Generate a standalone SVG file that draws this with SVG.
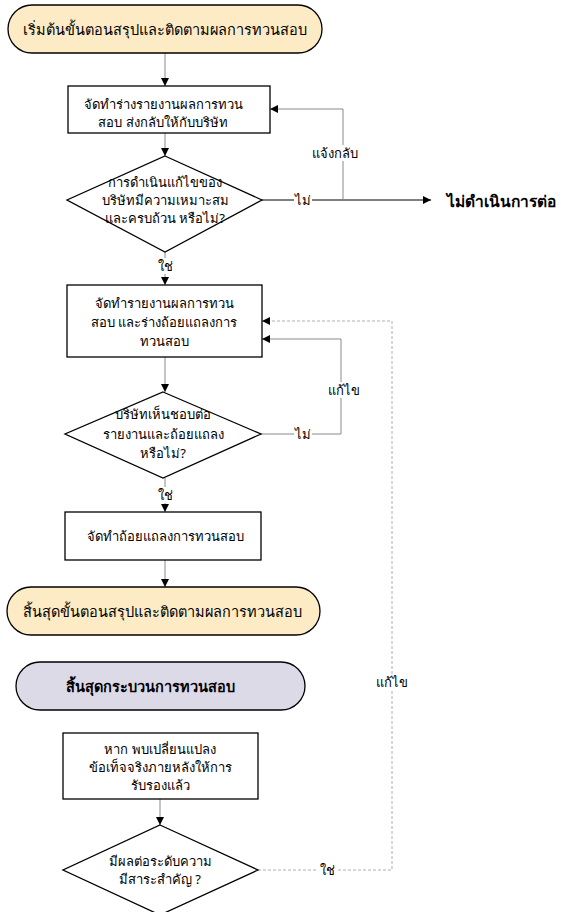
<svg xmlns="http://www.w3.org/2000/svg" width="561" height="912" viewBox="0 0 561 912">
<style>
text{font-family:"Noto Sans","DejaVu Sans",sans-serif;font-size:13px;fill:#000;text-anchor:middle;dominant-baseline:central}
.term{font-size:14.5px}
.bold{font-weight:bold}
.big{font-size:15.5px}
.node{stroke:#000;stroke-width:1.3}
.box{fill:#fff}
.yel{fill:#FCEBC5}
.pur{fill:#DDDAE8}
.c{fill:none;stroke:#8a8a8a;stroke-width:1}
.dash{stroke:#b0b0b0;stroke-dasharray:3 2}
.lbl{fill:#fff}
</style>
<defs>
<marker id="ah" viewBox="0 0 10 10" refX="10" refY="5" markerWidth="8" markerHeight="8" markerUnits="userSpaceOnUse" orient="auto">
<path d="M0,0 L10,5 L0,10 z" fill="#000"/>
</marker>
</defs>
<rect width="561" height="912" fill="#fff"/>

<g id="connectors">
<path class="c" d="M165,53 V86" marker-end="url(#ah)"/>
<path class="c" d="M165,133 V156" marker-end="url(#ah)"/>
<path class="c" d="M262,200 H431" marker-end="url(#ah)" style="stroke:#000"/>
<path class="c" d="M343,200 V109 H270" marker-end="url(#ah)"/>
<path class="c" d="M165,252 V285" marker-end="url(#ah)"/>
<path class="c" d="M165,357 V392" marker-end="url(#ah)"/>
<path class="c" d="M261,434 H341 V339 H262" marker-end="url(#ah)"/>
<path class="c" d="M165,478 V512" marker-end="url(#ah)"/>
<path class="c" d="M165,560 V587" marker-end="url(#ah)"/>
<path class="c" d="M160,799 V825" marker-end="url(#ah)"/>
<path class="c dash" d="M258,870 H392 V321 H262" marker-end="url(#ah)"/>
<rect class="lbl" x="294" y="192" width="18" height="16"/>
<text x="303" y="200">ไม่</text>
<rect class="lbl" x="317" y="145" width="36" height="16"/>
<text x="335" y="153">แจ้งกลับ</text>
<rect class="lbl" x="156" y="258" width="18" height="16"/>
<text x="165" y="266">ใช่</text>
<rect class="lbl" x="294" y="426" width="18" height="16"/>
<text x="303" y="434">ไม่</text>
<rect class="lbl" x="327" y="382" width="34" height="16"/>
<text x="344" y="390">แก้ไข</text>
<rect class="lbl" x="156" y="487" width="18" height="16"/>
<text x="165" y="495">ใช่</text>
<rect class="lbl" x="375" y="674" width="34" height="16"/>
<text x="392" y="682">แก้ไข</text>
<rect class="lbl" x="318" y="862" width="18" height="16"/>
<text x="327" y="870">ใช่</text>
</g>

<g id="start">
<rect class="node yel" x="8" y="5" width="314" height="48" rx="24"/>
<text class="term" x="165" y="29">เริ่มต้นขั้นตอนสรุปและติดตามผลการทวนสอบ</text>
</g>

<g id="draft-report">
<rect class="node box" x="68" y="86" width="202" height="47"/>
<text x="163" y="104">จัดทำร่างรายงานผลการทวน</text>
<text x="163" y="122">สอบ ส่งกลับให้กับบริษัท</text>
</g>

<g id="decision-1">
<polygon class="node box" points="165,156 262,200 165,252 67,200"/>
<text x="165" y="182">การดำเนินแก้ไขของ</text>
<text x="165" y="200">บริษัทมีความเหมาะสม</text>
<text x="165" y="218">และครบถ้วน หรือไม่?</text>
</g>

<g id="stop">
<text class="bold big" x="501" y="201">ไม่ดำเนินการต่อ</text>
</g>

<g id="final-report">
<rect class="node box" x="67" y="285" width="195" height="72"/>
<text x="164" y="303">จัดทำรายงานผลการทวน</text>
<text x="164" y="322">สอบ และร่างถ้อยแถลงการ</text>
<text x="164" y="341">ทวนสอบ</text>
</g>

<g id="decision-2">
<polygon class="node box" points="163,392 261,434 163,478 65,434"/>
<text x="163" y="414">บริษัทเห็นชอบต่อ</text>
<text x="163" y="434">รายงานและถ้อยแถลง</text>
<text x="163" y="453">หรือไม่?</text>
</g>

<g id="statement">
<rect class="node box" x="65" y="512" width="196" height="48"/>
<text x="165" y="536">จัดทำถ้อยแถลงการทวนสอบ</text>
</g>

<g id="end-step">
<rect class="node yel" x="7" y="587" width="313" height="48" rx="24"/>
<text class="term" x="162" y="611">สิ้นสุดขั้นตอนสรุปและติดตามผลการทวนสอบ</text>
</g>

<g id="end-process">
<rect class="node pur" x="16" y="662" width="289" height="48" rx="24"/>
<text class="term bold" x="150" y="686">สิ้นสุดกระบวนการทวนสอบ</text>
</g>

<g id="change-found">
<rect class="node box" x="63" y="733" width="195" height="66"/>
<text x="160" y="749">หาก พบเปลี่ยนแปลง</text>
<text x="160" y="767">ข้อเท็จจริงภายหลังให้การ</text>
<text x="160" y="785">รับรองแล้ว</text>
</g>

<g id="decision-3">
<polygon class="node box" points="160,825 258,870 160,915 63,870"/>
<text x="160" y="861">มีผลต่อระดับความ</text>
<text x="160" y="879">มีสาระสำคัญ ?</text>
</g>
</svg>
